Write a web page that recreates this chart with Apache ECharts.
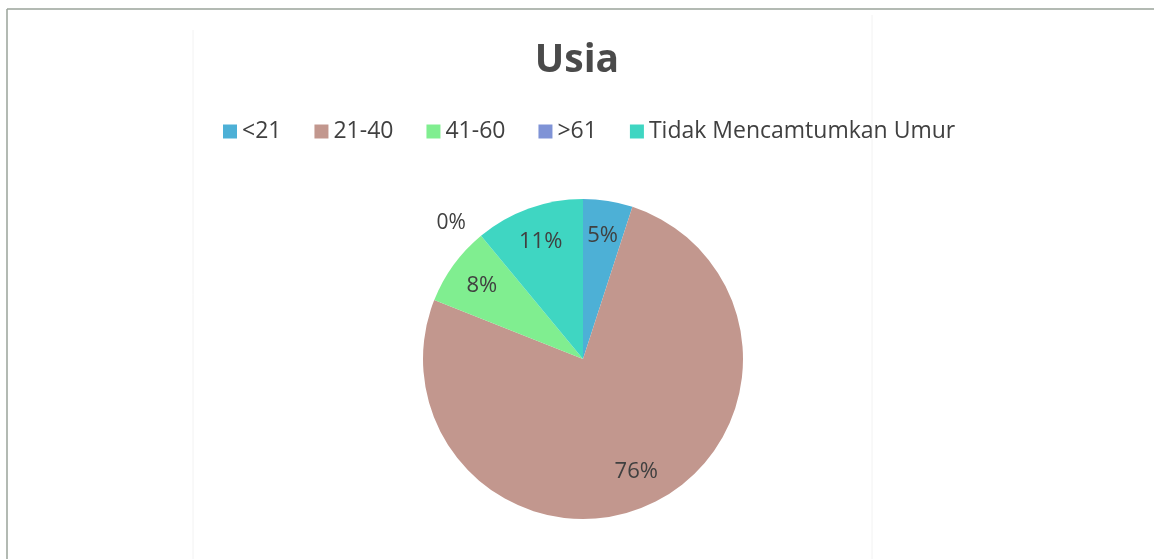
<!DOCTYPE html>
<html>
<head>
<meta charset="utf-8">
<script src="https://cdn.jsdelivr.net/npm/echarts@6/dist/echarts.min.js"></script>
<style>
html,body{margin:0;padding:0;background:#fff;}
#c{width:1154px;height:559px;}
</style>
</head>
<body>
<div id="c"></div>
<script>
const title = 'Usia';
const categories = ['<21', '21-40', '41-60', '>61', 'Tidak Mencamtumkan Umur'];
const values = [5, 76, 8, 0, 11];
const colors = ['#4db0d6', '#c2978e', '#80ee90', '#7f93d6', '#3fd6c2'];

const chart = echarts.init(document.getElementById('c'));
const FONT = '"Open Sans", sans-serif';
const cx = 583, cy = 359, R = 160;

const baseData = categories.map((n, i) => ({name: n, value: values[i], itemStyle: {color: colors[i]}}));
const labelData = categories.map((n, i) => {
  const d = {name: n, value: values[i], itemStyle: {color: 'transparent'}};
  if (values[i] === 0) d.label = {show: false};
  return d;
});
const zeroData = categories.map((n, i) => ({
  name: n, value: values[i], itemStyle: {color: 'transparent'}, label: {show: values[i] === 0}
}));

chart.setOption({
  animation: false,
  color: colors,
  title: {
    text: title, left: 'center', top: 36,
    textStyle: {fontFamily: FONT, fontSize: 39, fontWeight: 'bold', color: '#4a4a4a'}
  },
  legend: {
    left: 218, top: 115,
    itemWidth: 14, itemHeight: 14, itemGap: 33,
    icon: 'rect',
    data: categories,
    textStyle: {fontFamily: FONT, fontSize: 23, color: '#404040'}
  },
  graphic: [
    {type: 'line', shape: {x1: 7, y1: 9, x2: 1154, y2: 9}, style: {stroke: '#9aa39a', lineWidth: 1.5}, silent: true},
    {type: 'line', shape: {x1: 7, y1: 9, x2: 7, y2: 559}, style: {stroke: '#9aa39a', lineWidth: 1.5}, silent: true},
    {type: 'line', shape: {x1: 193, y1: 30, x2: 193, y2: 559}, style: {stroke: '#f2f2f2', lineWidth: 1}, silent: true},
    {type: 'line', shape: {x1: 872, y1: 15, x2: 872, y2: 559}, style: {stroke: '#f2f2f2', lineWidth: 1}, silent: true}
  ],
  series: [
    {
      type: 'pie', center: [cx, cy], radius: [0, R],
      startAngle: 90, clockwise: true,
      label: {show: false}, labelLine: {show: false},
      itemStyle: {borderWidth: 0},
      emphasis: {disabled: true},
      data: baseData
    },
    {
      type: 'pie', center: [cx, cy], radius: [84, R],
      startAngle: 90, clockwise: true, silent: true,
      legendHoverLink: false,
      label: {show: true, position: 'inside', formatter: '{c}%',
        fontFamily: FONT, fontSize: 22, color: '#404040'},
      labelLine: {show: false},
      emphasis: {disabled: true},
      data: labelData
    },
    {
      type: 'pie', center: [cx, cy], radius: [0, R],
      startAngle: 90, clockwise: true, silent: true,
      legendHoverLink: false,
      label: {position: 'outside', formatter: '{c}%', fontFamily: FONT, fontSize: 21, color: '#404040'},
      labelLine: {show: false, length: 16, length2: 0},
      emphasis: {disabled: true},
      data: zeroData
    }
  ]
});
</script>
</body>
</html>
